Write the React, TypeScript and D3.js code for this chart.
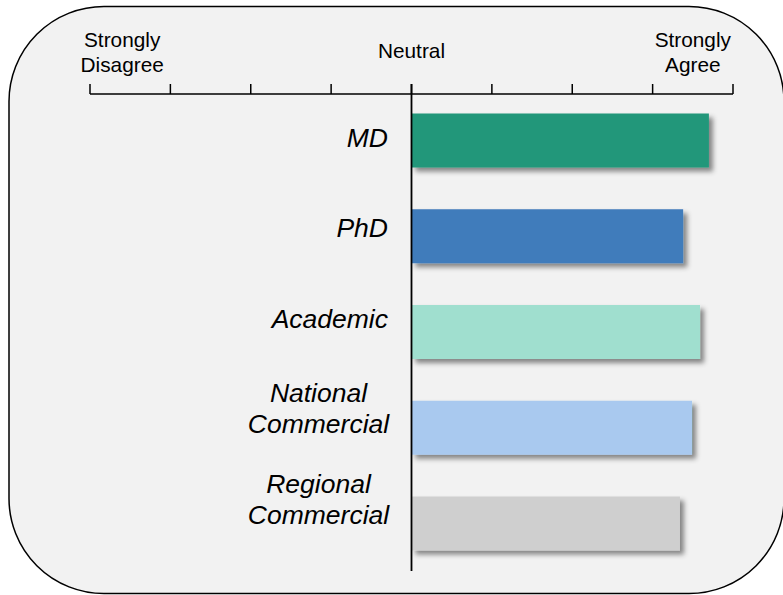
import React from "react";
import * as d3 from "d3";

const categories: string[][] = [
  ["MD"],
  ["PhD"],
  ["Academic"],
  ["National", "Commercial"],
  ["Regional", "Commercial"],
];
const values: number[] = [3.7, 3.38, 3.59, 3.49, 3.34];
const colors: string[] = ["#21977a", "#407bbb", "#a0dfcf", "#a9c9ef", "#cfcfcf"];
const tickValues: number[] = [-4, -3, -2, -1, 0, 1, 2, 3, 4];
const headerLabels: string[][] = [["Strongly", "Disagree"], ["Neutral"], ["Strongly", "Agree"]];
const headerAt: number[] = [-3.6, 0, 3.5];

const W = 783;
const H = 595;
const FONT = "Liberation Sans";

export default function App() {
  const x = d3.scaleLinear().domain([-4, 4]).range([90, 733]);
  const ids = categories.map((_, i) => String(i));
  const y = d3.scaleBand<string>().domain(ids).range([113.5, 550.5]).paddingInner(0.436).paddingOuter(0);
  const ly = d3.scalePoint<string>().domain(ids).range([137.5, 498.5]);
  const axisY = 94;
  const lineH = 31;
  const fs = 26.5;
  const capMid = fs * 0.36;
  const labelRight = 388;
  const multiCenter = 318.5;

  return (
    <div style={{ position: "fixed", left: 0, top: 0, width: W, height: H, background: "#fff" }}>
      <svg width={W} height={H} style={{ display: "block" }}>
        <defs>
          <filter id="sh" x="-10%" y="-20%" width="130%" height="160%">
            <feDropShadow dx="4" dy="4" stdDeviation="2.5" floodColor="#000" floodOpacity="0.45" />
          </filter>
        </defs>
        <rect x={9} y={6.5} width={775} height={587} rx={95} ry={95} fill="#f2f2f2" stroke="#000" strokeWidth={1.5} />

        {headerLabels.map((lines, i) => {
          const cy = lines.length === 1 ? 58 : 47;
          return (
            <text key={i} textAnchor="middle" style={{ fontFamily: FONT, fontSize: 20.8 }} fill="#000">
              {lines.map((l, j) => (
                <tspan key={j} x={x(headerAt[i])} y={cy + j * 25}>
                  {l}
                </tspan>
              ))}
            </text>
          );
        })}

        <line x1={x(-4)} x2={x(4)} y1={axisY} y2={axisY} stroke="#000" strokeWidth={1.5} />
        {tickValues.map((t) => (
          <line key={t} x1={x(t)} x2={x(t)} y1={axisY - 10} y2={axisY} stroke="#000" strokeWidth={1.5} />
        ))}

        {values.map((v, i) => (
          <rect
            key={i}
            x={x(0)}
            y={y(String(i))}
            width={x(v) - x(0)}
            height={y.bandwidth()}
            fill={colors[i]}
            filter="url(#sh)"
          />
        ))}

        <line x1={x(0)} x2={x(0)} y1={axisY - 10} y2={571} stroke="#000" strokeWidth={1.8} />

        {categories.map((lines, i) => {
          const c = ly(String(i)) as number;
          const n = lines.length;
          const firstBase = c + capMid - ((n - 1) * lineH) / 2;
          const multi = n > 1;
          return (
            <text
              key={i}
              textAnchor={multi ? "middle" : "end"}
              style={{ fontFamily: FONT, fontSize: fs, fontStyle: "italic" }}
              fill="#000"
            >
              {lines.map((l, j) => (
                <tspan key={j} x={multi ? multiCenter : labelRight} y={firstBase + j * lineH}>
                  {l}
                </tspan>
              ))}
            </text>
          );
        })}
      </svg>
    </div>
  );
}
